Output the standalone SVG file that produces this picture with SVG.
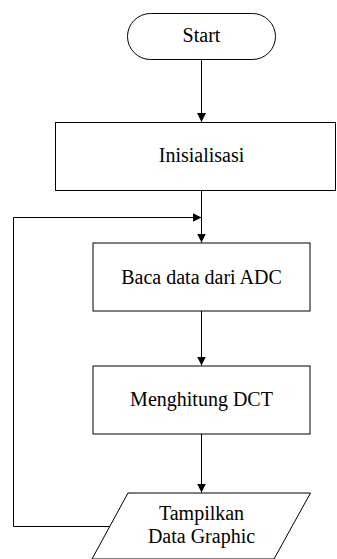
<svg xmlns="http://www.w3.org/2000/svg" width="337" height="559" viewBox="0 0 337 559">
<style>
.s{fill:#fff;stroke:#000;stroke-width:1}
.t{font-family:"Liberation Serif","Times New Roman",serif;font-size:20px;fill:#000;text-anchor:middle}
.c{fill:none;stroke:#000;stroke-width:1}
</style>
<defs>
<marker id="a" markerWidth="9" markerHeight="9" refX="9" refY="4.5" orient="auto" markerUnits="userSpaceOnUse">
<path d="M0,0 L9,4.5 L0,9 Z" fill="#000"/>
</marker>
</defs>
<rect width="337" height="559" fill="#fff"/>
<g id="start">
<rect class="s" x="127.5" y="13.5" width="148" height="46" rx="23" ry="23"/>
<text class="t" x="201.5" y="42">Start</text>
</g>
<g id="init">
<rect class="s" x="55.5" y="122.5" width="280" height="68"/>
<text class="t" x="201.5" y="162">Inisialisasi</text>
</g>
<g id="baca">
<rect class="s" x="93" y="243" width="217" height="68"/>
<text class="t" x="201.5" y="283.5">Baca data dari ADC</text>
</g>
<g id="dct">
<rect class="s" x="93" y="366" width="217" height="68"/>
<text class="t" x="201.5" y="405.5">Menghitung DCT</text>
</g>
<g id="tampil">
<polygon class="s" points="128,493 310.5,493 274,559 92,559"/>
<text class="t" x="201.5" y="520">Tampilkan</text>
<text class="t" x="201.5" y="543">Data Graphic</text>
</g>
<g id="connectors">
<path class="c" d="M201.5,59.5 V122" marker-end="url(#a)"/>
<path class="c" d="M201.5,190.5 V242.5" marker-end="url(#a)"/>
<path class="c" d="M201.5,311 V365.5" marker-end="url(#a)"/>
<path class="c" d="M201.5,434 V492.5" marker-end="url(#a)"/>
<path class="c" d="M110,526.5 H13.5 V217.5 H201.5" marker-end="url(#a)"/>
</g>
</svg>
